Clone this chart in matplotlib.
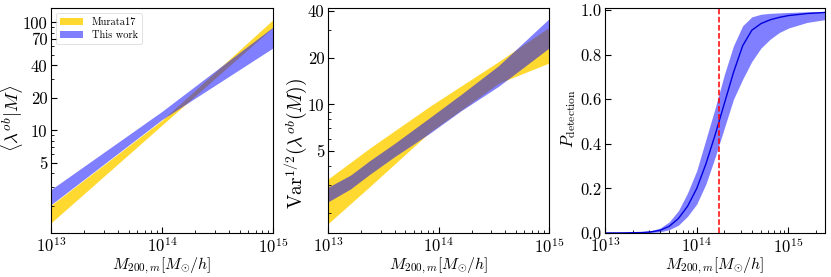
import numpy as np
import matplotlib
matplotlib.use("Agg")
import matplotlib.pyplot as plt
from matplotlib.ticker import FixedLocator, NullFormatter, FixedFormatter, LogLocator

plt.rcParams['font.family'] = ['cmr10', 'DejaVu Serif']
plt.rcParams['mathtext.fontset'] = 'cm'
plt.rcParams['axes.formatter.use_mathtext'] = True
plt.rcParams['axes.unicode_minus'] = False

# ---- Panel 1: <lambda^ob | M> ----
mass_p1 = [1e13, 1e14, 1e15]
murata_mean_lo = [1.39, 11.2, 90.0]
murata_mean_hi = [2.02, 12.4, 106.0]
this_mean_lo = [2.05, 12.6, 58.0]
this_mean_hi = [2.83, 15.0, 90.6]

# ---- Panel 2: Var^1/2 ----
mass_p2_murata = [1e13, 2.4e13, 8.3e13, 3.5e14, 1e15]
murata_var_lo = [1.70, 2.96, 6.6, 13.7, 18.5]
murata_var_hi = [3.30, 5.24, 9.7, 18.9, 31.4]
mass_p2_this = [1e13, 1.6e13, 2.4e13, 4e13, 8.3e13, 1.6e14, 3.5e14, 1e15]
this_var_lo = [2.35, 2.85, 3.55, 4.6, 6.5, 9.1, 13.1, 23.1]
this_var_hi = [2.92, 3.50, 4.35, 5.6, 8.2, 11.6, 17.8, 35.7]

# ---- Panel 3: detection probability ----
log_mass_p3 = [13.0, 13.2, 13.4, 13.5, 13.6, 13.7, 13.8, 13.9, 14.0, 14.1, 14.2,
               14.3, 14.4, 14.5, 14.6, 14.7, 14.8, 14.9, 15.0, 15.2, 15.4]
p_det_mid = [0.000, 0.0005, 0.002, 0.005, 0.012, 0.03, 0.065, 0.12, 0.20, 0.31, 0.44,
             0.58, 0.72, 0.84, 0.91, 0.94, 0.957, 0.968, 0.976, 0.985, 0.99]
p_det_lo = [0.000, 0.000, 0.001, 0.002, 0.005, 0.015, 0.035, 0.075, 0.13, 0.22, 0.34,
            0.47, 0.60, 0.69, 0.77, 0.83, 0.87, 0.90, 0.92, 0.945, 0.958]
p_det_hi = [0.000, 0.001, 0.005, 0.01, 0.022, 0.05, 0.10, 0.18, 0.28, 0.42, 0.56,
            0.71, 0.84, 0.93, 0.97, 0.982, 0.986, 0.988, 0.99, 0.993, 0.995]
mass_threshold = 1.74e14

yellow = '#FFD92F'
blue_fill = (0.0, 0.0, 1.0, 0.5)

fig = plt.figure(figsize=(8.31, 2.77), dpi=100)
W, H = 831.0, 277.0
def mk(x0, x1, y0=8.0, y1=233.0):
    return fig.add_axes([x0 / W, (H - y1) / H, (x1 - x0) / W, (y1 - y0) / H])

ax1 = mk(51, 273)
ax2 = mk(328, 549)
ax3 = mk(605, 825)

fs = 12
lfs = 11.5
for ax in (ax1, ax2, ax3):
    ax.set_xscale('log')
    ax.tick_params(which='both', direction='in', top=False, right=False, labelsize=fs, pad=2.5)
    ax.tick_params(which='major', length=4)
    ax.tick_params(which='minor', length=2)
    ax.set_xlabel(r'$M_{200,m}[M_{\odot}/h]$', fontsize=lfs, labelpad=0)
    for s in ax.spines.values():
        s.set_linewidth(0.8)

# Panel 1
ax1.fill_between(mass_p1, murata_mean_lo, murata_mean_hi, color=yellow, lw=0, label='Murata17')
ax1.fill_between(mass_p1, this_mean_lo, this_mean_hi, color=blue_fill, lw=0, label='This work')
ax1.set_yscale('log')
ax1.set_xlim(1e13, 1e15)
ax1.set_ylim(1.12, 136)
ax1.yaxis.set_major_locator(FixedLocator([5, 10, 20, 40, 70, 100]))
ax1.yaxis.set_major_formatter(FixedFormatter(['5', '10', '20', '40', '70', '100']))
ax1.yaxis.set_minor_locator(LogLocator(base=10, subs=np.arange(2, 10)))
ax1.yaxis.set_minor_formatter(NullFormatter())
ax1.set_ylabel(r'$\langle\lambda^{ob}|M\rangle$', fontsize=13.5)
ax1.yaxis.set_label_coords(-0.117, 0.51)
leg = ax1.legend(loc='upper left', fontsize=7.5, frameon=True, handlelength=2.2,
                 borderpad=0.4, labelspacing=0.35, fancybox=True)
leg.get_frame().set_linewidth(0.5)

# Panel 2
ax2.fill_between(mass_p2_murata, murata_var_lo, murata_var_hi, color=yellow, lw=0)
ax2.fill_between(mass_p2_this, this_var_lo, this_var_hi, color=blue_fill, lw=0)
ax2.set_yscale('log')
ax2.set_xlim(1e13, 1e15)
ax2.set_ylim(1.48, 41.9)
ax2.yaxis.set_major_locator(FixedLocator([5, 10, 20, 40]))
ax2.yaxis.set_major_formatter(FixedFormatter(['5', '10', '20', '40']))
ax2.yaxis.set_minor_locator(LogLocator(base=10, subs=np.arange(2, 10)))
ax2.yaxis.set_minor_formatter(NullFormatter())
ax2.set_ylabel(r'$\mathrm{Var}^{1/2}(\lambda^{ob}(M))$', fontsize=14)
ax2.yaxis.set_label_coords(-0.086, 0.40)

# Panel 3
mass_p3 = 10.0 ** np.array(log_mass_p3)
ax3.fill_between(mass_p3, p_det_lo, p_det_hi, color=blue_fill, lw=0)
ax3.plot(mass_p3, p_det_mid, color='#0000dd', lw=1.0)
ax3.axvline(mass_threshold, color='red', ls='--', lw=1.1)
ax3.set_xlim(1e13, 2.5e15)
ax3.set_ylim(0, 1.01)
ax3.set_yticks([0.0, 0.2, 0.4, 0.6, 0.8, 1.0])
ax3.set_yticklabels(['0.0', '0.2', '0.4', '0.6', '0.8', '1.0'])
ax3.set_ylabel(r'$P_{\rm detection}$', fontsize=12)
ax3.yaxis.set_label_coords(-0.123, 0.51)

fig.savefig('out.png', dpi=100)
